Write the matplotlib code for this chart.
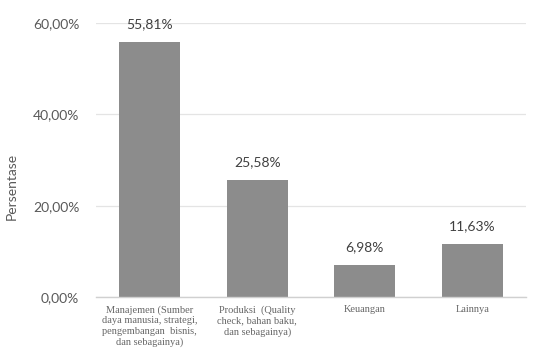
import matplotlib.pyplot as plt
from matplotlib.ticker import FuncFormatter

categories = [
    "Manajemen (Sumber\ndaya manusia, strategi,\npengembangan  bisnis,\ndan sebagainya)",
    "Produksi  (Quality\ncheck, bahan baku,\ndan sebagainya)",
    "Keuangan",
    "Lainnya",
]
percentages = [55.81, 25.58, 6.98, 11.63]
y_ticks = [0, 20, 40, 60]


def pct(v):
    return f"{v:.2f}".replace(".", ",") + "%"


fig = plt.figure(figsize=(5.33, 3.52), dpi=100)
ax = fig.add_axes([0.180, 0.156, 0.807, 0.779])

x = range(len(categories))
bars = ax.bar(x, percentages, width=0.57, color="#8c8c8c", zorder=2)

# value labels sit a little above each bar
for bar, v in zip(bars, percentages):
    ax.text(bar.get_x() + bar.get_width() / 2, v + 2.6, pct(v),
            ha="center", va="bottom", fontsize=10, color="#404040",
            family="Lato", clip_on=False)

ax.set_ylim(0, 60)
ax.set_xlim(-0.5, len(categories) - 0.5)
ax.set_yticks(y_ticks)
ax.yaxis.set_major_formatter(FuncFormatter(lambda v, _: pct(v)))
ax.grid(axis="y", color="#e4e4e4", linewidth=0.9, zorder=0)

ax.set_xticks(list(x))
ax.set_xticklabels(categories, family="Liberation Serif", fontsize=7.5,
                   color="#666666", linespacing=1.2)
ax.tick_params(axis="x", length=0, pad=6)
ax.tick_params(axis="y", length=0, pad=12, labelsize=10, labelcolor="#595959")
for lbl in ax.get_yticklabels():
    lbl.set_family("Lato")

for side in ["top", "right", "left"]:
    ax.spines[side].set_visible(False)
ax.spines["bottom"].set_color("#d0d0d0")
ax.spines["bottom"].set_linewidth(1.0)

fig.text(0.022, 0.47, "Persentase", rotation=90, ha="center", va="center",
         fontsize=10, color="#595959", family="Lato")

fig.savefig("out.png", dpi=100)
